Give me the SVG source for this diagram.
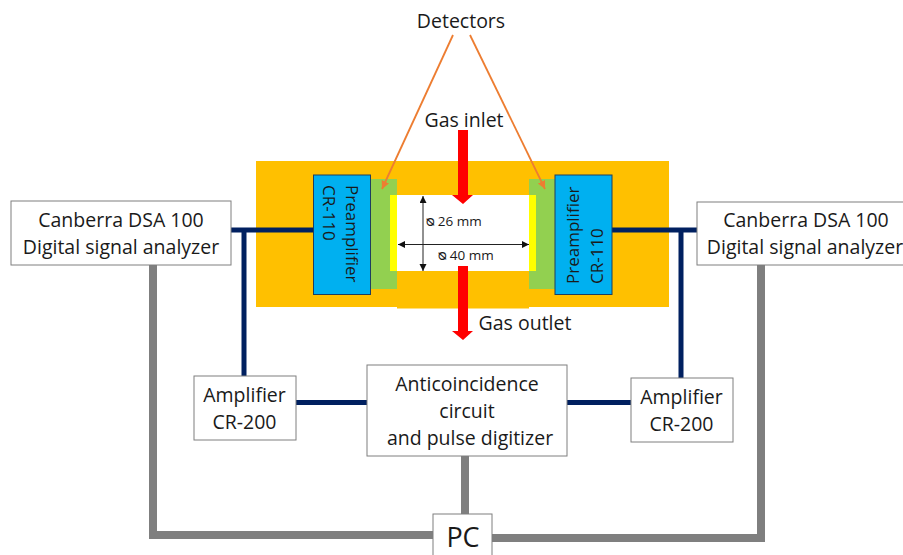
<svg xmlns="http://www.w3.org/2000/svg" width="903" height="555" viewBox="0 0 903 555">
<defs>
<marker id="oa" markerWidth="10" markerHeight="10" refX="8" refY="4" orient="auto" markerUnits="userSpaceOnUse"><path d="M0 0L8 4L0 8Z" fill="#ED7D31"/></marker>
<marker id="ka" markerWidth="9" markerHeight="8" refX="7" refY="3.500" orient="auto-start-reverse" markerUnits="userSpaceOnUse"><path d="M0 0L7 3.500L0 7Z" fill="#111"/></marker>
</defs>
<style>
text{font-family:"Open Sans","Noto Sans","Liberation Sans",sans-serif;fill:#1a1a1a;text-anchor:middle}
.l{font-size:19.5px}
.s{font-size:13.500px}
.r{font-size:17px;text-anchor:start}
.box{fill:#fff;stroke:#7f7f7f;stroke-width:1}
.blue{fill:#00B0F0;stroke:#1f3f5f;stroke-width:1}
.navy{fill:none;stroke:#002060;stroke-width:5}
.gray{fill:none;stroke:#7f7f7f;stroke-width:8}
.or{stroke:#ED7D31;stroke-width:1.800;marker-end:url(#oa);fill:none}
.dim{stroke:#222;stroke-width:1;marker-start:url(#ka);marker-end:url(#ka);fill:none}
</style>
<rect width="903" height="555" fill="#fff"/>
<g id="chamber">
<rect x="256" y="161" width="413" height="146" fill="#FFC000"/>
<rect x="397" y="300" width="132" height="8.500" fill="#FFC000"/>
<rect x="371" y="179" width="26" height="110" fill="#92D050"/>
<rect x="529" y="179" width="26" height="110" fill="#92D050"/>
<rect x="390" y="195" width="146" height="76" fill="#FFFF00"/>
<rect x="397" y="195" width="132" height="76" fill="#fff"/>
</g>
<g id="connectors">
<path class="navy" d="M231 230H313M244 230V376M296 402.500H367"/>
<path class="navy" d="M612 230H697M681 230V378M567 402.500H631"/>
<path class="gray" d="M153 265V535H433"/>
<path class="gray" d="M761 265V538H492"/>
<path class="gray" d="M465 456V514"/>
<path class="or" d="M453 35L382 189"/>
<path class="or" d="M470 35L545 189"/>
<path class="dim" d="M423 196V271"/>
<path class="dim" d="M398 244.500H529"/>
<path d="M458 130H468V195H473L463 204L452 195H458Z" fill="#FF0000"/>
<path d="M458 266H468V331H473L463 340L452 331H458Z" fill="#FF0000"/>
</g>
<g id="detectors"><text class="l" x="461" y="28">Detectors</text></g>
<g id="gas-inlet"><text class="l" x="464" y="127">Gas inlet</text></g>
<g id="gas-outlet"><text class="l" x="525" y="330">Gas outlet</text></g>
<g id="dim-26"><text class="s" x="454" y="226">ᴓ 26 mm</text></g>
<g id="dim-40"><text class="s" x="466" y="260">ᴓ 40 mm</text></g>
<g id="preamp-left">
<rect class="blue" x="313.500" y="175" width="57" height="119.500"/>
<text class="r" transform="translate(346 185) rotate(90)">Preamplifier</text>
<text class="r" transform="translate(323 185) rotate(90)">CR-110</text>
</g>
<g id="preamp-right">
<rect class="blue" x="555" y="175" width="57" height="119.500"/>
<text class="r" transform="translate(579 284) rotate(-90)">Preamplifier</text>
<text class="r" transform="translate(603 284) rotate(-90)">CR-110</text>
</g>
<g id="dsa-left">
<rect class="box" x="11" y="201" width="220" height="64"/>
<text class="l" x="121" y="227">Canberra DSA 100</text>
<text class="l" x="121" y="254">Digital signal analyzer</text>
</g>
<g id="dsa-right">
<rect class="box" x="697" y="202" width="207" height="63"/>
<text class="l" x="806" y="227">Canberra DSA 100</text>
<text class="l" x="805" y="254">Digital signal analyzer</text>
</g>
<g id="amp-left">
<rect class="box" x="194" y="376" width="102" height="64"/>
<text class="l" x="244.500" y="402">Amplifier</text>
<text class="l" x="244.500" y="429">CR-200</text>
</g>
<g id="amp-right">
<rect class="box" x="631" y="378" width="102" height="64"/>
<text class="l" x="681.500" y="404">Amplifier</text>
<text class="l" x="681.500" y="431">CR-200</text>
</g>
<g id="anticoincidence">
<rect class="box" x="367" y="365" width="200" height="91"/>
<text class="l" x="467" y="391">Anticoincidence</text>
<text class="l" x="467" y="418">circuit</text>
<text class="l" x="470" y="445">and pulse digitizer</text>
</g>
<g id="pc">
<rect class="box" x="433" y="514" width="59" height="42"/>
<text x="463" y="547" style="font-size:27px">PC</text>
</g>
</svg>
